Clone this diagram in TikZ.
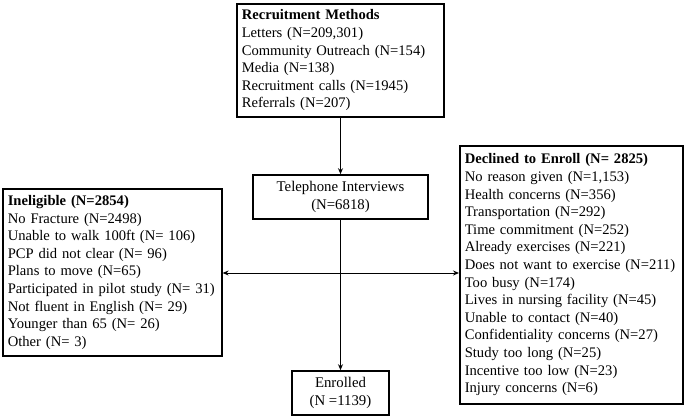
\documentclass[tikz,border=0pt]{standalone}
\usepackage{fontspec}
\setmainfont{Liberation Serif}
\usetikzlibrary{arrows.meta}

\tikzset{
  flowbox/.style={draw, line width=1.6pt, align=left, anchor=north west, inner xsep=5pt, inner ysep=4pt, font=\fontsize{14.6}{17.6}\selectfont},
  midbox/.style={draw, line width=1.6pt, align=center, font=\fontsize{14.8}{17.8}\selectfont},
  flow/.style={line width=1pt, -{Stealth[length=6pt,width=5pt]}}
}

\begin{document}
\begin{tikzpicture}[x=1pt, y=-1pt]
  \useasboundingbox (0,0) rectangle (685,417);
  \node [flowbox, text width=197pt, minimum height=113pt] (methods) at (236,3)
    {\textbf{Recruitment Methods}\\Letters (N=209,301)\\Community Outreach (N=154)\\Media (N=138)\\Recruitment calls (N=1945)\\Referrals (N=207)};
  \node [midbox, minimum width=175pt, minimum height=44pt] (phone) at (340.5,197) {Telephone Interviews\\(N=6818)};
  \node [flowbox, text width=209pt, minimum height=167pt] (inelig) at (2,188)
    {\textbf{Ineligible (N=2854)}\\No Fracture (N=2498)\\Unable to walk 100ft (N= 106)\\PCP did not clear (N= 96)\\Plans to move (N=65)\\Participated in pilot study (N=~31)\\Not fluent in English (N= 29)\\Younger than 65 (N= 26)\\Other (N= 3)};
  \node [flowbox, text width=213pt, minimum height=258pt] (declined) at (459,145)
    {\textbf{Declined to Enroll (N= 2825)}\\No reason given (N=1,153)\\Health concerns (N=356)\\Transportation (N=292)\\Time commitment (N=252)\\Already exercises (N=221)\\Does not want to exercise~(N=211)\\Too busy (N=174)\\Lives in nursing facility (N=45)\\Unable to contact (N=40)\\Confidentiality concerns (N=27)\\Study too long (N=25)\\Incentive too low (N=23)\\Injury concerns (N=6)};
  \node [midbox, minimum width=97pt, minimum height=44pt] (enrolled) at (340.5,393) {Enrolled\\(N =1139)};
  \coordinate (split) at (340.5,273);

  \draw [flow] (methods.south -| phone.north) -- (phone.north);
  \draw [flow] (phone.south) -- (enrolled.north);
  \draw [flow] (split) -- (split -| inelig.east);
  \draw [flow] (split) -- (split -| declined.west);
\end{tikzpicture}
\end{document}
